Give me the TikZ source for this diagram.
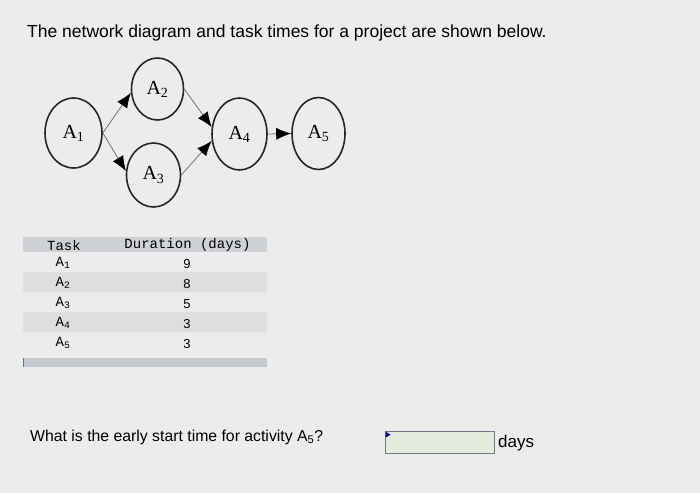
\documentclass[tikz,border=0pt]{standalone}
\usepackage{fontspec}
\setmainfont{Liberation Sans}
\setmonofont{Liberation Mono}
\newfontfamily\actfont{Liberation Serif}
\usetikzlibrary{shapes.geometric,arrows.meta}
\tikzset{>=Latex}
\definecolor{paper}{RGB}{236,236,236}
\definecolor{rowshade}{RGB}{222,222,222}
\definecolor{headshade}{RGB}{206,209,214}
\definecolor{barshade}{RGB}{196,200,207}
\definecolor{boxfill}{RGB}{228,235,220}
\definecolor{boxline}{RGB}{110,120,135}

\tikzset{
	activity/.style={ellipse, draw=black!85, line width=1.6pt, inner sep=0pt, font=\actfont\fontsize{20}{20}\selectfont},
	flow/.style={-{Latex[length=15pt,width=12pt,color=black]}, draw=black!55, line width=0.8pt},
	cell/.style={font=\ttfamily\fontsize{14}{14}\selectfont, inner sep=0pt},
	num/.style={font=\fontsize{13}{13}\selectfont, inner sep=0pt},
}

\begin{document}
\begin{tikzpicture}[x=1pt,y=-1pt]
	% Background and bounding box
	\fill[paper] (0,0) rectangle (700,493);
	\useasboundingbox (0,0) rectangle (700,493);

	\node[anchor=west, inner sep=0pt, font=\fontsize{17.5}{17.5}\selectfont] (title) at (27,33) {The network diagram and task times for a project are shown below.};

	% Defining activity nodes
	\node[activity, minimum width=57pt, minimum height=70pt] (a1) at (73.5,133) {A\textsubscript{1}}; %A1
	\node[activity, minimum width=52pt, minimum height=62pt] (a2) at (157.5,89) {A\textsubscript{2}}; %A2
	\node[activity, minimum width=54pt, minimum height=64pt] (a3) at (153.5,175) {A\textsubscript{3}}; %A3
	\node[activity, minimum width=55pt, minimum height=72pt] (a4) at (239.5,134) {A\textsubscript{4}}; %A4
	\node[activity, minimum width=53pt, minimum height=72pt] (a5) at (318.5,133.5) {A\textsubscript{5}}; %A5

	% Drawing precedences
	\draw[flow] (a1.east) -- (a2.188);
	\draw[flow] (a1.east) -- (a3.172);
	\draw[flow] (a2.east) -- (a4.166);
	\draw[flow] (a3.east) -- (a4.194);
	\draw[flow] (a4.east) -- (a5.west);

	% Task table
	\fill[headshade] (23,237) rectangle (267,252);
	\fill[rowshade] (23,272) rectangle (267,292);
	\fill[rowshade] (23,312) rectangle (267,332);
	\fill[barshade] (23,358) rectangle (267,367);
	\draw[black!55, line width=1pt] (23.5,358) -- (23.5,367);

	\node[cell] (hTask) at (64,245) {Task};
	\node[cell] (hDur) at (187.5,245) {Duration (days)};
	\node[cell] (t1) at (63,263) {A\textsubscript{1}};
	\node[cell] (t2) at (63,283) {A\textsubscript{2}};
	\node[cell] (t3) at (63,303) {A\textsubscript{3}};
	\node[cell] (t4) at (63,323) {A\textsubscript{4}};
	\node[cell] (t5) at (63,343) {A\textsubscript{5}};
	\node[num] (d1) at (187,264) {9};
	\node[num] (d2) at (187,284) {8};
	\node[num] (d3) at (187,304) {5};
	\node[num] (d4) at (187,324) {3};
	\node[num] (d5) at (187,344) {3};

	% Question and answer box
	\node[anchor=west, inner sep=0pt, font=\fontsize{15.8}{15.8}\selectfont] (question) at (30,437) {What is the early start time for activity A\textsubscript{5}?};
	\node[draw=boxline, fill=boxfill, line width=0.8pt, minimum width=109pt, minimum height=22pt, inner sep=0pt] (answer) at (439.5,442) {};
	\fill[blue!60!black] (answer.north west) ++(1,1) -- ++(5,3) -- ++(-5,3) -- cycle;
	\node[anchor=west, inner sep=0pt, font=\fontsize{17}{17}\selectfont] (unit) at (498,443) {days};
\end{tikzpicture}
\end{document}
